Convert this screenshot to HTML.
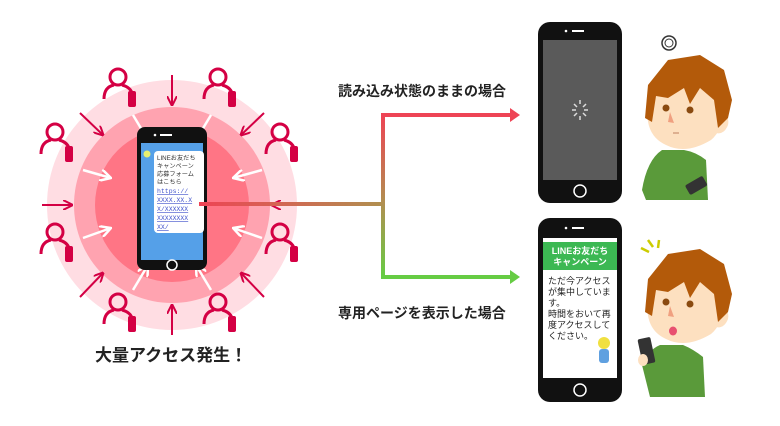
<!DOCTYPE html>
<html><head><meta charset="utf-8"><style>
body{margin:0;background:#fff;width:780px;height:421px;overflow:hidden;font-family:"Liberation Sans","Noto Sans CJK JP",sans-serif}
</style></head><body>
<svg width="780" height="421" viewBox="0 0 780 421" xmlns="http://www.w3.org/2000/svg" font-family="Liberation Sans, Noto Sans CJK JP, sans-serif">
<defs>
<linearGradient id="g1" x1="200" y1="0" x2="383" y2="0" gradientUnits="userSpaceOnUse"><stop offset="0" stop-color="#ee4455"/><stop offset="1" stop-color="#b09050"/></linearGradient>
<linearGradient id="g2" x1="0" y1="115" x2="0" y2="277" gradientUnits="userSpaceOnUse"><stop offset="0" stop-color="#ee4455"/><stop offset="0.55" stop-color="#b09050"/><stop offset="1" stop-color="#66cc44"/></linearGradient>
<g id="p"><circle cx="0" cy="-8" r="8" fill="none" stroke="#d40044" stroke-width="3"/><path d="M-14 14 q0-12 10-14 M4 0 q8 2 10 8" fill="none" stroke="#d40044" stroke-width="3"/><rect x="10" y="6" width="8" height="16" rx="2" fill="#d40044"/></g>
<g id="head">
<path d="M720 115 q10 0 8 10 q-4 10 -12 8z" fill="#fde0c0"/>
<path d="M648 105 q-4 30 18 40 q20 10 45 -5 q12 -10 12 -30 L712 80 L660 85z" fill="#fde0c0"/>
<path d="M645 118 L648 85 L668 60 L700 55 L724 70 L732 100 L728 118 L718 128 L714 100 L700 88 L690 104 L684 88 L668 98 L656 96 L652 122 Z" fill="#b35a0a"/>
<circle cx="666" cy="108" r="3.5" fill="#8a4a10"/><circle cx="690" cy="110" r="3.5" fill="#8a4a10"/>
<path d="M670 112 L674 123 L668 122z" fill="#f0a080"/>
</g>
<marker id="ar" markerWidth="10" markerHeight="10" refX="9" refY="5" orient="auto" markerUnits="userSpaceOnUse"><path d="M0 0L10 5L0 10" fill="none" stroke="#d40044" stroke-width="2"/></marker>
<marker id="aw" markerWidth="12" markerHeight="12" refX="11" refY="6" orient="auto" markerUnits="userSpaceOnUse"><path d="M0 0L11 6L0 12" fill="none" stroke="#fff" stroke-width="2.5"/></marker>
</defs>
<circle cx="172" cy="205" r="125" fill="#ffdde3"/>
<circle cx="172" cy="205" r="98" fill="#ffa3b0"/>
<circle cx="172" cy="205" r="77" fill="#ff7585"/>
<g stroke="#d40044" stroke-width="2" marker-end="url(#ar)">
<line x1="172" y1="75" x2="172" y2="105"/><line x1="172" y1="335" x2="172" y2="305"/>
<line x1="42" y1="205" x2="72" y2="205"/><line x1="302" y1="205" x2="272" y2="205"/>
<line x1="80" y1="113" x2="103" y2="135"/><line x1="264" y1="113" x2="241" y2="135"/>
<line x1="80" y1="297" x2="103" y2="273"/><line x1="264" y1="297" x2="241" y2="273"/>
</g>
<g stroke="#fff" stroke-width="2.5" marker-end="url(#aw)">
<line x1="133" y1="115" x2="148" y2="140"/><line x1="211" y1="115" x2="196" y2="140"/>
<line x1="133" y1="290" x2="148" y2="265"/><line x1="211" y1="290" x2="196" y2="265"/>
<line x1="83" y1="170" x2="111" y2="178"/><line x1="262" y1="170" x2="233" y2="178"/>
<line x1="83" y1="238" x2="111" y2="228"/><line x1="262" y1="238" x2="233" y2="228"/>
</g>
<use href="#p" x="118" y="85"/><use href="#p" x="218" y="85"/>
<use href="#p" x="55" y="140"/><use href="#p" x="280" y="140"/>
<use href="#p" x="55" y="240"/><use href="#p" x="280" y="240"/>
<use href="#p" x="118" y="310"/><use href="#p" x="218" y="310"/>
<rect x="137" y="127" width="70" height="143" rx="8" fill="#111"/>
<rect x="141" y="143" width="62" height="117" fill="#55a0e8"/>
<circle cx="155" cy="135" r="1.3" fill="#fff"/><rect x="160" y="134" width="12" height="2" fill="#fff"/>
<circle cx="172" cy="265" r="5" fill="none" stroke="#fff" stroke-width="1.5"/>
<circle cx="147" cy="154" r="3.5" fill="#e8f070"/>
<rect x="154" y="151" width="50" height="82" rx="4" fill="#fff"/>
<g font-size="6.2" fill="#333"><text x="157" y="160">LINEお友だち</text><text x="157" y="168">キャンペーン</text><text x="157" y="176">応募フォーム</text><text x="157" y="184">はこちら</text></g>
<g font-size="6.5" fill="#4455cc" font-family="Liberation Mono, monospace" text-decoration="underline"><text x="157" y="193">https://</text><text x="157" y="202">XXXX.XX.X</text><text x="157" y="211">X/XXXXXX</text><text x="157" y="220">XXXXXXXX</text><text x="157" y="229">XX/</text></g>
<line x1="199" y1="204" x2="383" y2="204" stroke="url(#g1)" stroke-width="4"/>
<path d="M383 204V115H512M383 204V277H512" fill="none" stroke="url(#g2)" stroke-width="4"/>
<line x1="381" y1="115" x2="512" y2="115" stroke="#ee4455" stroke-width="4"/>
<line x1="381" y1="277" x2="512" y2="277" stroke="#66cc44" stroke-width="4"/>
<path d="M510 108L520 115L510 122Z" fill="#ee4455"/><path d="M510 270L520 277L510 284Z" fill="#66cc44"/>
<text x="338" y="96" font-size="14" font-weight="bold" fill="#222">読み込み状態のままの場合</text>
<text x="338" y="318" font-size="14" font-weight="bold" fill="#222">専用ページを表示した場合</text>
<text x="95" y="361" font-size="17" font-weight="bold" fill="#222">大量アクセス発生！</text>
<rect x="538" y="22" width="84" height="181" rx="12" fill="#111"/>
<rect x="543" y="40" width="74" height="140" fill="#5a5a5a"/>
<circle cx="566" cy="31" r="1.3" fill="#fff"/><rect x="572" y="30" width="12" height="2" fill="#fff"/>
<circle cx="580" cy="191" r="6" fill="none" stroke="#fff" stroke-width="1.5"/>
<g stroke="#ddd" stroke-width="1.5"><line x1="580" y1="100" x2="580" y2="104"/><line x1="580" y1="116" x2="580" y2="120"/><line x1="572" y1="110" x2="576" y2="110"/><line x1="584" y1="110" x2="588" y2="110"/><line x1="574" y1="104" x2="577" y2="107"/><line x1="583" y1="113" x2="586" y2="116"/><line x1="586" y1="104" x2="583" y2="107"/><line x1="577" y1="113" x2="574" y2="116"/></g>
<rect x="538" y="218" width="84" height="184" rx="12" fill="#111"/>
<rect x="543" y="238" width="74" height="140" fill="#fff"/>
<circle cx="566" cy="228" r="1.3" fill="#fff"/><rect x="572" y="227" width="12" height="2" fill="#fff"/>
<circle cx="580" cy="390" r="6" fill="none" stroke="#fff" stroke-width="1.5"/>
<rect x="543" y="242" width="74" height="28" fill="#3cb853"/>
<text x="580" y="254" font-size="9" font-weight="bold" fill="#fff" text-anchor="middle">LINEお友だち</text>
<text x="580" y="265" font-size="9" font-weight="bold" fill="#fff" text-anchor="middle">キャンペーン</text>
<g font-size="9" fill="#222"><text x="548" y="284">ただ今アクセス</text><text x="548" y="295">が集中していま</text><text x="548" y="306">す。</text><text x="548" y="317">時間をおいて再</text><text x="548" y="328">度アクセスして</text><text x="548" y="339">ください。</text></g>
<circle cx="604" cy="343" r="6" fill="#f0e040"/><rect x="599" y="349" width="10" height="14" rx="3" fill="#5fa0e0"/>
<!-- top person -->
<path d="M662 150 q-15 10 -20 40 l4 10 h62 l-2 -40 q-10 -8 -22 -10z" fill="#5a9a3a"/>
<use href="#head"/>
<path d="M673 133 h6" stroke="#c08060" stroke-width="1"/>
<rect x="686" y="180" width="20" height="11" rx="2" fill="#333" transform="rotate(-30 696 185)"/>
<circle cx="669" cy="43" r="7" fill="none" stroke="#333" stroke-width="1.5"/><circle cx="669" cy="43" r="4" fill="none" stroke="#333" stroke-width="1"/>
<!-- bottom person -->
<path d="M660 345 q-12 5 -18 20 l8 32 h55 l-2 -40 q-10 -8 -20 -12z" fill="#5a9a3a"/>
<use href="#head" y="194"/>
<ellipse cx="673" cy="331" rx="4" ry="4.5" fill="#e85070"/>
<rect x="640" y="338" width="13" height="26" rx="2" fill="#333" transform="rotate(-12 646 351)"/>
<ellipse cx="643" cy="360" rx="5" ry="6" fill="#fde0c0"/>
<g stroke="#cccc00" stroke-width="2.5"><line x1="641" y1="248" x2="649" y2="252"/><line x1="648" y1="240" x2="653" y2="247"/><line x1="659" y1="240" x2="658" y2="248"/></g>
</svg>
</body></html>
